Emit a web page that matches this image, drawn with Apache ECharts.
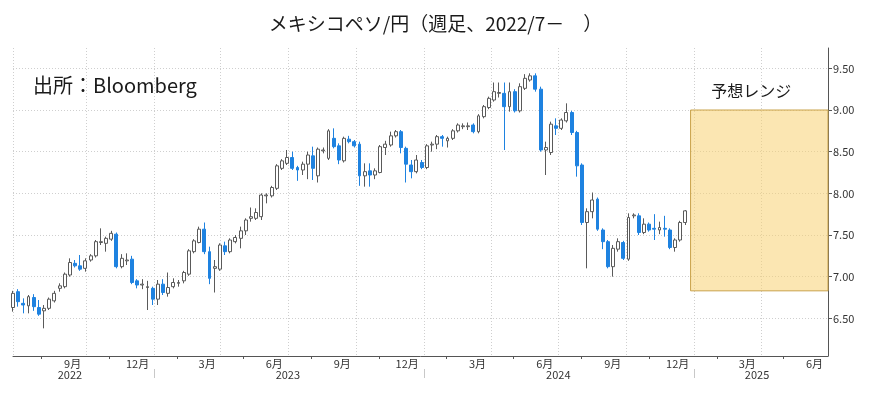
<!DOCTYPE html>
<html><head><meta charset="utf-8">
<script src="https://cdn.jsdelivr.net/npm/echarts@6/dist/echarts.min.js"></script>
<style>html,body{margin:0;padding:0;background:#fff}#c{width:871px;height:394px}</style>
</head><body><div id="c"></div>
<script>
// ---- data (weekly, week ending Friday) ----
const dates = [
'2022-06-24','2022-07-01','2022-07-08','2022-07-15','2022-07-22','2022-07-29','2022-08-05','2022-08-12','2022-08-19','2022-08-26',
'2022-09-02','2022-09-09','2022-09-16','2022-09-23','2022-09-30','2022-10-07','2022-10-14','2022-10-21','2022-10-28','2022-11-04',
'2022-11-11','2022-11-18','2022-11-25','2022-12-02','2022-12-09','2022-12-16','2022-12-23','2022-12-30',
'2023-01-06','2023-01-13','2023-01-20','2023-01-27','2023-02-03','2023-02-10','2023-02-17','2023-02-24','2023-03-03','2023-03-10',
'2023-03-17','2023-03-24','2023-03-31','2023-04-07','2023-04-14','2023-04-21','2023-04-28','2023-05-05','2023-05-12','2023-05-19',
'2023-05-26','2023-06-02','2023-06-09','2023-06-16','2023-06-23','2023-06-30','2023-07-07','2023-07-14','2023-07-21','2023-07-28',
'2023-08-04','2023-08-11','2023-08-18','2023-08-25','2023-09-01','2023-09-08','2023-09-15','2023-09-22','2023-09-29','2023-10-06',
'2023-10-13','2023-10-20','2023-10-27','2023-11-03','2023-11-10','2023-11-17','2023-11-24','2023-12-01','2023-12-08','2023-12-15',
'2023-12-22','2023-12-29',
'2024-01-05','2024-01-12','2024-01-19','2024-01-26','2024-02-02','2024-02-09','2024-02-16','2024-02-23','2024-03-01','2024-03-08',
'2024-03-15','2024-03-22','2024-03-29','2024-04-05','2024-04-12','2024-04-19','2024-04-26','2024-05-03','2024-05-10','2024-05-17',
'2024-05-24','2024-05-31','2024-06-07','2024-06-14','2024-06-21','2024-06-28','2024-07-05','2024-07-12','2024-07-19','2024-07-26',
'2024-08-02','2024-08-09','2024-08-16','2024-08-23','2024-08-30','2024-09-06','2024-09-13','2024-09-20','2024-09-27','2024-10-04',
'2024-10-11','2024-10-18','2024-10-25','2024-11-01','2024-11-08','2024-11-15','2024-11-22','2024-11-29','2024-12-06','2024-12-13',
'2024-12-20'
];
const open = [
6.63,6.82,6.68,6.65,6.75,6.63,6.59,6.62,6.71,6.86,
6.88,7.02,7.16,7.13,7.10,7.20,7.25,7.41,7.40,7.45,
7.51,7.12,7.19,7.21,6.95,6.90,6.87,6.86,
6.73,6.91,6.80,6.88,6.92,6.95,7.03,7.30,7.41,7.57,
7.30,7.10,7.09,7.37,7.30,7.42,7.46,7.55,7.70,7.70,
7.72,7.97,7.97,8.06,8.30,8.36,8.43,8.31,8.28,8.35,
8.45,8.21,8.51,8.42,8.66,8.57,8.39,8.65,8.62,8.59,
8.21,8.27,8.22,8.25,8.55,8.58,8.69,8.74,8.54,8.34,
8.26,8.37,
8.31,8.58,8.59,8.68,8.63,8.66,8.75,8.80,8.80,8.82,
8.74,8.92,9.03,9.12,9.20,9.20,9.04,9.22,8.99,9.26,
9.36,9.41,9.25,8.52,8.49,8.81,8.78,8.87,8.97,8.73,
8.34,7.65,7.78,7.93,7.56,7.42,7.12,7.33,7.41,7.21,
7.73,7.73,7.53,7.63,7.58,7.56,7.58,7.56,7.35,7.44,
7.65
];
const close = [
6.80,6.70,6.66,6.76,6.64,6.55,6.62,6.73,6.80,6.89,
7.03,7.17,7.13,7.09,7.19,7.25,7.42,7.42,7.46,7.52,
7.12,7.22,7.20,6.93,6.90,6.91,6.88,6.73,
6.91,6.81,6.87,6.93,6.93,7.05,7.31,7.43,7.57,7.30,
6.98,7.12,7.38,7.30,7.44,7.47,7.55,7.68,7.72,7.77,
7.98,7.98,8.07,8.33,8.39,8.43,8.30,8.28,8.35,8.46,
8.30,8.53,8.52,8.75,8.56,8.40,8.66,8.62,8.57,8.21,
8.26,8.22,8.27,8.56,8.59,8.69,8.74,8.55,8.35,8.26,
8.40,8.31,
8.57,8.59,8.68,8.66,8.66,8.75,8.82,8.81,8.81,8.74,
8.93,9.04,9.14,9.22,9.21,9.04,9.22,8.99,9.28,9.38,
9.41,9.25,8.52,8.55,8.83,8.78,8.88,8.97,8.73,8.33,
7.65,7.78,7.92,7.57,7.42,7.12,7.34,7.42,7.22,7.71,
7.74,7.53,7.63,7.56,7.57,7.59,7.57,7.35,7.44,7.65,
7.79
];
const low = [
6.58,6.64,6.56,6.56,6.59,6.53,6.38,6.60,6.69,6.82,
6.86,7.00,7.11,7.07,7.06,7.18,7.23,7.38,7.30,7.43,
7.10,7.10,7.14,6.91,6.86,6.85,6.60,6.66,
6.66,6.78,6.76,6.86,6.88,6.92,7.01,7.28,7.40,7.27,
6.91,6.81,7.07,7.26,7.28,7.40,7.34,7.50,7.66,7.68,
7.68,7.88,7.95,8.04,8.28,8.34,8.28,8.15,8.22,8.17,
8.16,8.13,8.48,8.40,8.54,8.35,8.37,8.60,8.55,8.09,
8.08,8.08,8.17,8.24,8.46,8.56,8.67,8.48,8.13,8.18,
8.24,8.29,
8.29,8.50,8.53,8.56,8.55,8.64,8.73,8.77,8.76,8.72,
8.72,8.90,9.01,9.10,9.15,8.52,8.98,8.97,8.97,9.24,
9.34,9.22,8.50,8.22,8.46,8.70,8.76,8.85,8.70,8.20,
7.62,7.10,7.70,7.55,7.33,7.10,7.00,7.30,7.20,7.19,
7.70,7.50,7.51,7.54,7.44,7.51,7.48,7.33,7.30,7.42,
7.62
];
const high = [
6.83,6.85,6.74,6.78,6.79,6.72,6.66,6.75,6.83,6.92,
7.05,7.22,7.20,7.26,7.22,7.27,7.44,7.58,7.48,7.55,
7.53,7.27,7.28,7.25,6.97,6.97,6.95,6.88,
6.96,6.97,7.05,6.98,6.96,7.07,7.33,7.45,7.60,7.65,
7.36,7.20,7.40,7.42,7.46,7.50,7.60,7.70,7.83,7.82,
8.00,8.00,8.09,8.35,8.41,8.52,8.50,8.33,8.38,8.50,
8.56,8.55,8.55,8.77,8.78,8.60,8.68,8.69,8.64,8.62,
8.36,8.36,8.30,8.58,8.63,8.74,8.76,8.76,8.56,8.40,
8.46,8.40,
8.59,8.62,8.70,8.70,8.68,8.77,8.84,8.84,8.85,8.84,
8.95,9.06,9.16,9.33,9.33,9.33,9.33,9.25,9.32,9.43,
9.44,9.44,9.28,8.62,8.86,8.90,8.90,9.08,8.99,8.75,
8.36,7.82,8.01,7.95,7.58,7.44,7.38,7.46,7.43,7.76,
7.76,7.76,7.70,7.65,7.75,7.66,7.73,7.58,7.46,7.67,
7.80
];
// ---- axes / annotations ----
const xMin = '2022-06-24', xMax = '2025-07-01';
const yMin = 6.048, yMax = 9.744;
const yTicks = [6.5, 7.0, 7.5, 8.0, 8.5, 9.0, 9.5];
const gridLineDates = ['2022-06-24','2022-10-01','2023-01-01','2023-04-01','2023-07-01','2023-10-01','2024-01-01','2024-04-01','2024-07-01','2024-10-01','2025-01-01','2025-04-01'];
const monthLabelDates = ['2022-10-01','2023-01-01','2023-04-01','2023-07-01','2023-10-01','2024-01-01','2024-04-01','2024-07-01','2024-10-01','2025-01-01','2025-04-01','2025-07-01'];
const minorTickDates = ['2022-08-01','2022-11-01','2023-02-01','2023-05-01','2023-08-01','2023-11-01','2024-02-01','2024-05-01','2024-08-01','2024-11-01','2025-02-01','2025-05-01'];
const yearSepDates = ['2023-01-01','2024-01-01','2025-01-01'];
const yearLabelDates = ['2022-09-09','2023-07-01','2024-07-01','2025-03-27'];
const lastClose = 7.79;
const rangeStart = '2024-12-27', rangeEnd = '2025-07-01';
const rangeLow = 6.83, rangeHigh = 9.00;

const ts = s => new Date(s + 'T00:00:00').getTime();
const FONT = '"Noto Sans CJK JP", "Noto Sans", sans-serif';
const candles = dates.map((d, i) => [ts(d), open[i], close[i], low[i], high[i]]);

const chart = echarts.init(document.getElementById('c'), null, {renderer: 'canvas'});
const gridLine = {show: true, lineStyle: {color: '#cfcfcf', type: [1, 2], width: 1}};
chart.setOption({
  animation: false,
  backgroundColor: '#fff',
  textStyle: {fontFamily: FONT},
  title: {
    text: 'メキシコペソ/円（週足、2022/7－　）',
    left: 'center', top: 9,
    textStyle: {fontSize: 19, fontWeight: 'normal', color: '#1a1a1a', fontFamily: FONT}
  },
  graphic: [{
    type: 'text', left: 33, top: 75,
    style: {text: '出所：Bloomberg', fontSize: 20, fill: '#1a1a1a', fontFamily: FONT}
  }],
  grid: {left: 13, right: 43, top: 48, bottom: 38},
  xAxis: [{
    type: 'value', min: ts(xMin), max: ts(xMax),
    axisLine: {show: true, lineStyle: {color: '#555', width: 1}},
    axisTick: {show: false, customValues: gridLineDates.map(ts)},
    splitLine: gridLine,
    axisLabel: {
      customValues: monthLabelDates.map(ts),
      formatter: v => (new Date(v - 86400000).getMonth() + 1) + '月',
      align: 'right', padding: [0, 5, 0, 0], margin: 2,
      fontSize: 11, color: '#333', fontFamily: FONT
    }
  }, {
    type: 'value', min: ts(xMin), max: ts(xMax), position: 'bottom', offset: 13,
    axisLine: {show: false},
    axisTick: {show: true, customValues: yearSepDates.map(ts), length: 9, lineStyle: {color: '#c8c8c8'}},
    splitLine: {show: false},
    axisLabel: {
      customValues: yearLabelDates.map(ts),
      formatter: v => String(new Date(v).getFullYear()),
      margin: 0, fontSize: 11, color: '#333', fontFamily: FONT
    }
  }, {
    type: 'value', min: ts(xMin), max: ts(xMax), position: 'bottom',
    axisLine: {show: false},
    axisTick: {show: true, customValues: minorTickDates.map(ts), length: 3, lineStyle: {color: '#555'}},
    splitLine: {show: false},
    axisLabel: {show: false}
  }],
  yAxis: {
    type: 'value', position: 'right', min: yMin, max: yMax,
    axisLine: {show: true, lineStyle: {color: '#555', width: 1}},
    axisTick: {show: true, customValues: yTicks, length: 4, lineStyle: {color: '#555'}},
    splitLine: gridLine,
    axisLabel: {
      customValues: yTicks, formatter: v => v.toFixed(2),
      margin: 5, fontSize: 11, color: '#333', fontFamily: FONT
    }
  },
  series: [{
    type: 'candlestick',
    xAxisIndex: 0, yAxisIndex: 0,
    data: candles,
    encode: {x: 0, y: [1, 2, 3, 4]},
    barWidth: 3.4,
    itemStyle: {
      color: '#ffffff', borderColor: '#5a5a5a',
      color0: '#1e82e0', borderColor0: '#1e82e0', borderWidth: 1
    },
    markArea: {
      silent: true,
      itemStyle: {color: 'rgba(248,210,115,0.55)', borderColor: '#c9a24a', borderWidth: 1},
      label: {
        show: true, position: 'top', distance: 5, offset: [-8, -6],
        formatter: '予想レンジ', fontSize: 16, color: '#1a1a1a', fontFamily: FONT
      },
      data: [[{xAxis: ts(rangeStart), yAxis: rangeHigh}, {xAxis: ts(rangeEnd), yAxis: rangeLow}]]
    },
    markLine: {
      silent: true, symbol: ['none', 'none'],
      lineStyle: {opacity: 0, width: 0},
      label: {
        show: true, position: 'end', distance: 4,
        formatter: lastClose.toFixed(2),
        backgroundColor: '#000', color: '#fff', padding: [2, 5, 2, 5],
        borderRadius: 2, fontSize: 11, fontFamily: FONT
      },
      data: [{yAxis: lastClose}]
    }
  }]
});
</script>
</body></html>
